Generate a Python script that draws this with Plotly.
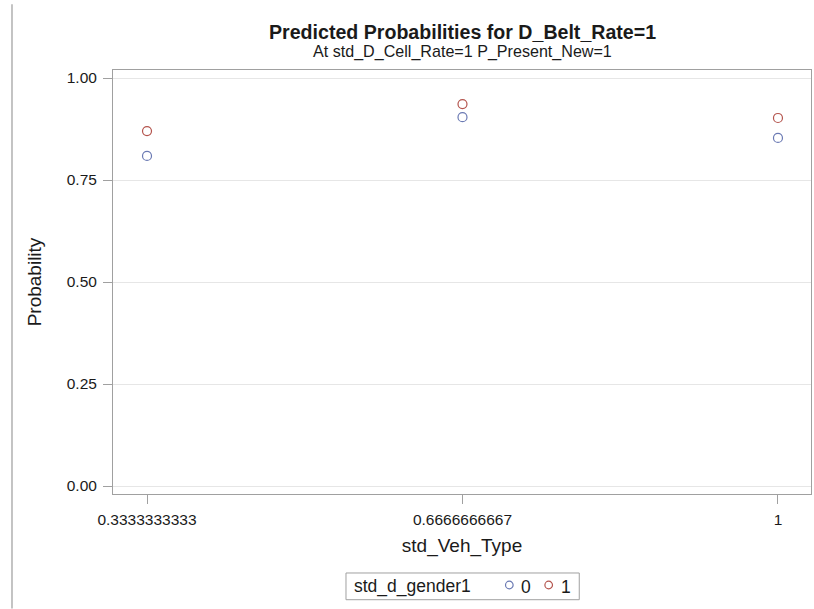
import plotly.graph_objects as go

# Predicted probabilities by vehicle type, split by gender
veh_type = [1/3, 2/3, 1.0]
veh_type_labels = ["0.3333333333", "0.6666666667", "1"]
prob_gender0 = [0.809, 0.904, 0.853]
prob_gender1 = [0.870, 0.936, 0.902]
gender_levels = ["0", "1"]
legend_title = "std_d_gender1"

color0 = "#6a79b3"
color1 = "#b4544d"
series_colors = [color0, color1]
text_color = "#1a1a1a"
frame_color = "#a0a0a0"
font_family = "Liberation Sans, Arial, sans-serif"

fig = go.Figure()
for probs, color, level in zip([prob_gender0, prob_gender1], series_colors, gender_levels):
    fig.add_trace(go.Scatter(
        x=veh_type, y=probs, mode="markers", name=level, showlegend=False,
        marker=dict(symbol="circle-open", size=9, color=color, line=dict(width=1.2)),
    ))

axis_common = dict(
    showline=True, linecolor=frame_color, linewidth=1, mirror=True,
    ticks="outside", ticklen=9, tickcolor=frame_color,
    tickfont=dict(size=15.5, color=text_color),
    zeroline=False, automargin=False,
)

fig.update_layout(
    width=814, height=609,
    margin=dict(l=113, r=3, t=70, b=115, autoexpand=False),
    paper_bgcolor="white", plot_bgcolor="white",
    font=dict(family=font_family, color=text_color),
    showlegend=False,
    xaxis=dict(
        range=[0.2974, 1.0349],
        tickvals=veh_type, ticktext=veh_type_labels,
        showgrid=False, ticklabelstandoff=2,
        title=dict(text="std_Veh_Type", font=dict(size=19), standoff=12),
        **axis_common,
    ),
    yaxis=dict(
        range=[-0.0196, 1.0196],
        tickvals=[0, 0.25, 0.5, 0.75, 1.0], tickformat=".2f",
        showgrid=True, gridcolor="#e6e6e6", gridwidth=1, ticklabelstandoff=3,
        title=dict(text="Probability", font=dict(size=19), standoff=20),
        **axis_common,
    ),
)

# Titles
fig.add_annotation(
    text="<b>Predicted Probabilities for D_Belt_Rate=1</b>",
    xref="paper", yref="paper", x=0.5, y=1.0896,
    xanchor="center", yanchor="middle", showarrow=False,
    font=dict(size=19.6, color=text_color),
)
fig.add_annotation(
    text="At std_D_Cell_Rate=1 P_Present_New=1",
    xref="paper", yref="paper", x=0.5, y=1.0448,
    xanchor="center", yanchor="middle", showarrow=False,
    font=dict(size=16.1, color=text_color),
)

# Legend box below the x-axis title: group label, then a swatch + label per level
legend_font = dict(size=17.5, color=text_color)
fig.add_shape(type="rect", xref="paper", yref="paper",
              x0=0.3338, x1=0.6680, y0=-0.1863, y1=-0.2493,
              line=dict(color=frame_color, width=1), fillcolor="white")
fig.add_annotation(text=legend_title, xref="paper", yref="paper",
                   x=0.3420, y=-0.2193, xanchor="left", yanchor="middle",
                   showarrow=False, font=legend_font)
swatch_x = [0.5678, 0.6242]
label_x = [0.5917, 0.6490]
for sx, lx, color, level in zip(swatch_x, label_x, series_colors, gender_levels):
    fig.add_shape(type="circle", xref="paper", yref="paper",
                  xsizemode="pixel", ysizemode="pixel",
                  xanchor=sx, yanchor=-0.2146,
                  x0=-3.8, x1=3.8, y0=-3.8, y1=3.8,
                  line=dict(color=color, width=1.2))
    fig.add_annotation(text=level, xref="paper", yref="paper",
                       x=lx, y=-0.2193, xanchor="center", yanchor="middle",
                       showarrow=False, font=legend_font)

# thin vertical rule along the left edge of the page
fig.add_shape(type="line", xref="paper", yref="paper",
              x0=-0.1447, x1=-0.1447, y0=-0.27, y1=1.155,
              line=dict(color="#b0b0b0", width=1.5))

fig.write_html("out.html")
